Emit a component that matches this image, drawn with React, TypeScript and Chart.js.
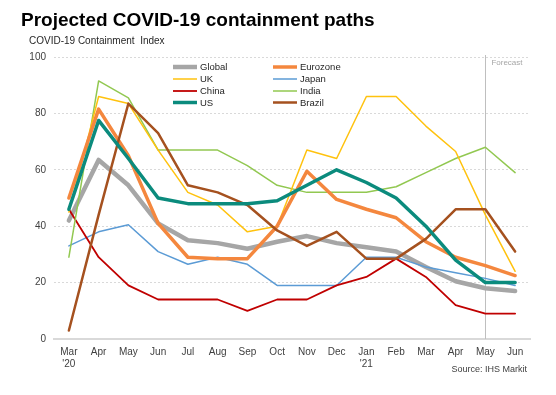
import React, { useEffect, useRef } from "react";
import { Chart, registerables } from "chart.js";

Chart.register(...registerables);

const categories: (string | string[])[] = [
  ["Mar", "'20"], "Apr", "May", "Jun", "Jul", "Aug", "Sep", "Oct", "Nov", "Dec",
  ["Jan", "'21"], "Feb", "Mar", "Apr", "May", "Jun",
];

const globalValues = [42, 63.5, 54.5, 41, 35, 34, 32, 34.5, 36.5, 34, 32.5, 31, 25.5, 20.5, 18, 17];
const eurozoneValues = [50, 81.5, 65, 41, 29, 28.5, 28.5, 40, 59.5, 49.5, 46, 43, 34.5, 29, 26, 22.5];
const ukValues = [45, 86, 83.5, 67, 52, 47.5, 38, 40, 67, 64, 86, 86, 75.5, 66.5, 44, 24];
const japanValues = [33, 38, 40.5, 31, 26.5, 29, 26.5, 19, 19, 19, 29, 29, 25.5, 23.5, 21.5, 19];
const chinaValues = [46, 29, 19, 14, 14, 14, 10, 14, 14, 19, 22, 28.5, 22, 12, 9, 9];
const indiaValues = [29, 91.5, 85.5, 67, 67, 67, 61.5, 54.5, 52, 52, 52, 54, 59, 64, 68, 59];
const usValues = [46, 77.5, 64, 50, 48, 48, 48, 49, 54.5, 60, 55.5, 50, 40, 28, 20, 20];
const brazilValues = [3, 44, 83.5, 73, 54.5, 52, 47.5, 38.5, 33, 38, 28.5, 28.5, 35.5, 46, 46, 31];

const yTicks = [0, 20, 40, 60, 80, 100];
const forecastIndex = 14;

const titleText = "Projected COVID-19 containment paths";
const yTitleText = "COVID-19 Containment  Index";
const sourceText = "Source: IHS Markit";
const forecastText = "Forecast";

const FONT = "'Liberation Sans', Arial, sans-serif";

type S = { label: string; data: number[]; color: string; width: number; order: number };
const series: S[] = [
  { label: "Global", data: globalValues, color: "#A6A6A6", width: 4.5, order: 8 },
  { label: "Eurozone", data: eurozoneValues, color: "#F4873E", width: 3.5, order: 3 },
  { label: "UK", data: ukValues, color: "#FFC20E", width: 1.5, order: 4 },
  { label: "Japan", data: japanValues, color: "#5B9BD5", width: 1.5, order: 7 },
  { label: "China", data: chinaValues, color: "#C00000", width: 1.8, order: 6 },
  { label: "India", data: indiaValues, color: "#92C851", width: 1.5, order: 5 },
  { label: "US", data: usValues, color: "#0B8B7D", width: 3.5, order: 1 },
  { label: "Brazil", data: brazilValues, color: "#A5511F", width: 2.5, order: 2 },
];

const decorPlugin = {
  id: "decor",
  beforeDatasetsDraw(chart: any) {
    const ctx = chart.ctx;
    const x = chart.scales.x.getPixelForValue(forecastIndex);
    const area = chart.chartArea;
    ctx.save();
    ctx.strokeStyle = "#BFBFBF";
    ctx.lineWidth = 1;
    ctx.beginPath();
    ctx.moveTo(Math.round(x) + 0.5, area.top - 2);
    ctx.lineTo(Math.round(x) + 0.5, area.bottom);
    ctx.stroke();
    ctx.fillStyle = "#A6A6A6";
    ctx.font = `8px ${FONT}`;
    ctx.textBaseline = "middle";
    ctx.textAlign = "left";
    ctx.fillText(forecastText, x + 6, 63);
    ctx.restore();
  },
  afterDraw(chart: any) {
    const ctx = chart.ctx;
    ctx.save();
    ctx.fillStyle = "#000000";
    ctx.font = `bold 19px ${FONT}`;
    ctx.textBaseline = "alphabetic";
    ctx.textAlign = "left";
    ctx.fillText(titleText, 21, 26);

    ctx.fillStyle = "#262626";
    ctx.font = `10px ${FONT}`;
    ctx.textBaseline = "middle";
    ctx.fillText(yTitleText, 29, 41);

    ctx.font = `9px ${FONT}`;
    ctx.textAlign = "right";
    ctx.fillStyle = "#404040";
    ctx.fillText(sourceText, 527, 370);

    // legend
    ctx.font = `9.5px ${FONT}`;
    ctx.textAlign = "left";
    ctx.fillStyle = "#262626";
    const cols = [173, 273];
    const rows = [67, 79, 91, 102.5];
    series.forEach((s, i) => {
      const cx = cols[i % 2];
      const cy = rows[Math.floor(i / 2)];
      ctx.strokeStyle = s.color;
      ctx.lineWidth = s.width;
      ctx.beginPath();
      ctx.moveTo(cx, cy);
      ctx.lineTo(cx + 24, cy);
      ctx.stroke();
      ctx.fillText(s.label, cx + 27, cy + 0.5);
    });
    ctx.restore();
  },
};

export default function App() {
  const ref = useRef<HTMLCanvasElement | null>(null);
  useEffect(() => {
    document.body.style.margin = "0";
    const canvas = ref.current;
    if (!canvas) return;
    const chart = new Chart(canvas, {
      type: "line",
      data: {
        labels: categories,
        datasets: series.map((s) => ({
          label: s.label,
          data: s.data,
          borderColor: s.color,
          backgroundColor: s.color,
          borderWidth: s.width,
          pointRadius: 0,
          pointHoverRadius: 0,
          tension: 0,
          fill: false,
          order: s.order,
          borderJoinStyle: "round" as const,
          borderCapStyle: "round" as const,
        })),
      },
      options: {
        animation: false,
        responsive: false,
        maintainAspectRatio: false,
        layout: { padding: { left: 0, right: 26, top: 57, bottom: 16 } },
        plugins: {
          legend: { display: false },
          title: { display: false },
          tooltip: { enabled: false },
        },
        scales: {
          x: {
            type: "category",
            offset: true,
            grid: { display: false, drawTicks: false },
            border: { display: true, color: "#D9D9D9", width: 2 },
            ticks: {
              autoSkip: false,
              maxRotation: 0,
              minRotation: 0,
              padding: 7,
              color: "#404040",
              font: { family: FONT, size: 10, lineHeight: 1.2 },
            },
            afterFit: (s: any) => {
              s.height = 40;
            },
          },
          y: {
            min: 0,
            max: 100,
            afterBuildTicks: (s: any) => {
              s.ticks = yTicks.map((v) => ({ value: v }));
            },
            grid: { color: "#D9D9D9", drawTicks: false, lineWidth: 1 },
            border: { display: false, dash: [2, 2] },
            ticks: {
              padding: 8,
              color: "#404040",
              font: { family: FONT, size: 10 },
            },
            afterFit: (s: any) => {
              s.width = 54;
            },
          },
        },
      },
      plugins: [decorPlugin],
    });
    return () => chart.destroy();
  }, []);
  return (
    <div style={{ width: 556, height: 395, background: "#fff" }}>
      <canvas ref={ref} width={556} height={395} style={{ display: "block" }} />
    </div>
  );
}
